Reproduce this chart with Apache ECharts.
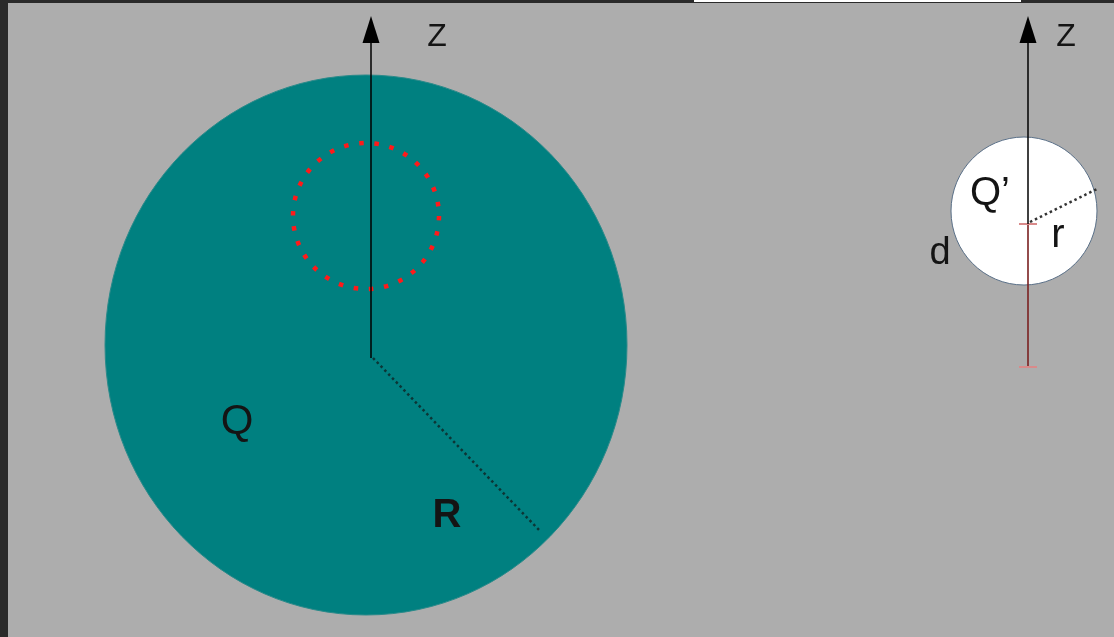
<!DOCTYPE html>
<html>
<head>
<meta charset="utf-8"/>
<title>Sphere Q and test sphere Q'</title>
<script src="https://cdn.jsdelivr.net/npm/echarts@6/dist/echarts.min.js"></script>
<style>
  html, body { margin: 0; padding: 0; background: #adadad; }
  #main { width: 1114px; height: 637px; }
</style>
</head>
<body>
<div id="main"></div>
<script type="text/javascript">
// all positions are in axis units (1 unit = 1 px of the picture, y grows downwards)
var frames = [[0, 0, 8, 637, '#2a2a2a'], [0, 0, 1114, 3, '#2a2a2a'], [694, 0, 327, 2, '#ffffff']];
// [cx, cy, rx, ry, fill]
var spheres = [[366, 345, 261, 270, '#008080'], [1024, 211, 73, 74, '#ffffff']];
// dotted red circle inside the big sphere [cx, cy, r]
var hole = [366, 216, 73];
// axes [x, yBottom, yTop]
var zAxes = [[371, 358, 16], [1028, 224, 16]];
// radius lines [x1, y1, x2, y2]
var radii = [[373, 358, 540, 531], [1030, 222, 1097, 189]];
// distance d [x, yFrom, yTo]
var dist = [1028, 224, 367];
// labels [text, x, y, size, weight]
var labels = [
  ['Z', 437, 37, 32, 'normal'],
  ['Z', 1066, 37, 32, 'normal'],
  ['Q', 237, 422, 42, 'normal'],
  ['R', 447, 516, 40, 'bold'],
  ['Q\u2019', 990, 194, 40, 'normal'],
  ['r', 1058, 236, 40, 'normal'],
  ['d', 940, 254, 38, 'normal']
];

var myChart = echarts.init(document.getElementById('main'));

function pt(api, x, y) { return api.coord([x, y]); }

var option = {
  backgroundColor: '#adadad',
  animation: false,
  grid: { left: 0, right: 0, top: 0, bottom: 0 },
  xAxis: { type: 'value', min: 0, max: 1114, show: false },
  yAxis: { type: 'value', min: 0, max: 637, inverse: true, show: false },
  series: [
    {
      type: 'custom', z: 1, data: frames,
      renderItem: function (params, api) {
        var f = frames[params.dataIndex];
        var a = pt(api, f[0], f[1]), b = pt(api, f[0] + f[2], f[1] + f[3]);
        return { type: 'rect', shape: { x: a[0], y: a[1], width: b[0] - a[0], height: b[1] - a[1] }, style: { fill: f[4] } };
      }
    },
    {
      type: 'custom', z: 2, data: spheres,
      renderItem: function (params, api) {
        var s = spheres[params.dataIndex];
        var c = pt(api, s[0], s[1]), e = pt(api, s[0] + s[2], s[1] + s[3]);
        return {
          type: 'ellipse',
          shape: { cx: c[0], cy: c[1], rx: e[0] - c[0], ry: e[1] - c[1] },
          style: { fill: s[4], stroke: params.dataIndex === 0 ? '#2a8a8a' : '#5a7088', lineWidth: 1 }
        };
      }
    },
    {
      type: 'custom', z: 3, data: [hole],
      renderItem: function (params, api) {
        var c = pt(api, hole[0], hole[1]), e = pt(api, hole[0] + hole[2], hole[1]);
        return {
          type: 'circle',
          shape: { cx: c[0], cy: c[1], r: e[0] - c[0] },
          style: { fill: null, stroke: '#ff1a1a', lineWidth: 4.5, lineDash: [4.5, 10.8] }
        };
      }
    },
    {
      type: 'custom', z: 4, data: radii,
      renderItem: function (params, api) {
        var l = radii[params.dataIndex];
        var a = pt(api, l[0], l[1]), b = pt(api, l[2], l[3]);
        return {
          type: 'line', shape: { x1: a[0], y1: a[1], x2: b[0], y2: b[1] },
          style: { stroke: params.dataIndex === 0 ? '#0c3535' : '#333', lineWidth: 2.5, lineDash: [2.5, 3] }
        };
      }
    },
    {
      type: 'custom', z: 5, data: [dist],
      renderItem: function (params, api) {
        var a = pt(api, dist[0], dist[1]), b = pt(api, dist[0], dist[2]);
        return {
          type: 'group', children: [
            { type: 'line', shape: { x1: a[0], y1: a[1], x2: b[0], y2: b[1] }, style: { stroke: '#7a2020', lineWidth: 1.6 } },
            { type: 'line', shape: { x1: a[0] - 9, y1: a[1], x2: a[0] + 9, y2: a[1] }, style: { stroke: '#d98a8a', lineWidth: 2 } },
            { type: 'line', shape: { x1: b[0] - 9, y1: b[1], x2: b[0] + 9, y2: b[1] }, style: { stroke: '#d98a8a', lineWidth: 2 } }
          ]
        };
      }
    },
    {
      type: 'custom', z: 6, data: zAxes,
      renderItem: function (params, api) {
        var z = zAxes[params.dataIndex];
        var a = pt(api, z[0], z[1]), b = pt(api, z[0], z[2]);
        return {
          type: 'group', children: [
            { type: 'line', shape: { x1: a[0], y1: a[1], x2: b[0], y2: b[1] + 20 }, style: { stroke: '#000', lineWidth: 1.5 } },
            { type: 'polygon', shape: { points: [[b[0], b[1]], [b[0] - 8.5, b[1] + 27], [b[0] + 8.5, b[1] + 27]] }, style: { fill: '#000' } }
          ]
        };
      }
    },
    {
      type: 'custom', z: 7, data: labels,
      renderItem: function (params, api) {
        var t = labels[params.dataIndex];
        var p = pt(api, t[1], t[2]);
        return {
          type: 'text', x: p[0], y: p[1],
          style: {
            text: t[0], fill: '#141414', align: 'center', verticalAlign: 'middle',
            font: t[4] + ' ' + t[3] + 'px "Liberation Sans", Arial, sans-serif'
          }
        };
      }
    }
  ]
};

myChart.setOption(option);
</script>
</body>
</html>
